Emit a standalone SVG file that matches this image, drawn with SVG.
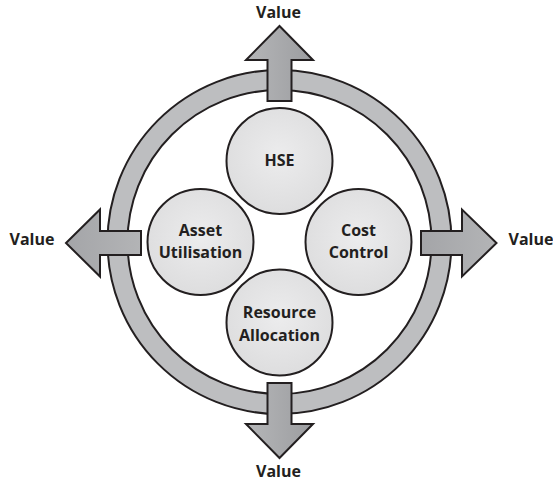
<svg xmlns="http://www.w3.org/2000/svg" width="553" height="483" viewBox="0 0 553 483">
  <defs>
    <linearGradient id="arrowV" x1="0" y1="0" x2="1" y2="0">
      <stop offset="0" stop-color="#b5b6b8"/>
      <stop offset="1" stop-color="#9c9da0"/>
    </linearGradient>
    <linearGradient id="arrowH" x1="0" y1="0" x2="1" y2="0">
      <stop offset="0" stop-color="#a4a5a8"/>
      <stop offset="1" stop-color="#b3b4b6"/>
    </linearGradient>
    <radialGradient id="nodeFill" cx="0.5" cy="0.45" r="0.6">
      <stop offset="0" stop-color="#ececed"/>
      <stop offset="1" stop-color="#dcdcdd"/>
    </radialGradient>
    <style>
      .ring { fill: #bdbec0; stroke: #231f20; stroke-width: 2; fill-rule: evenodd; }
      .arrow { stroke: #231f20; stroke-width: 2; stroke-linejoin: miter; }
      .node circle { fill: url(#nodeFill); stroke: #231f20; stroke-width: 2; }
      text { font-family: "Open Sans", "Liberation Sans", sans-serif; font-weight: 700; font-size: 16px; fill: #231f20; text-anchor: middle; }
    </style>
  </defs>
  <rect width="553" height="483" fill="#ffffff"/>

  <g id="ring">
    <path class="ring" d="M279.5,70 A172,172 0 1,1 279.5,414 A172,172 0 1,1 279.5,70 Z M279.5,90 A152,152 0 1,0 279.5,394 A152,152 0 1,0 279.5,90 Z"/>
  </g>

  <g id="connectors">
    <path class="arrow" fill="url(#arrowV)" d="M267.5,101 L267.5,60 L246,60 L279.5,26 L313,60 L291.5,60 L291.5,101 Z"/>
    <path class="arrow" fill="url(#arrowV)" d="M267.5,383 L267.5,424 L246,424 L279.5,458 L313,424 L291.5,424 L291.5,383 Z"/>
    <path class="arrow" fill="url(#arrowH)" d="M141,231 L100,231 L100,209.5 L66,243 L100,276.5 L100,255 L141,255 Z"/>
    <path class="arrow" fill="url(#arrowH)" d="M421,231 L462,231 L462,209.5 L496.5,243 L462,276.5 L462,255 L421,255 Z"/>
  </g>

  <g id="node-hse" class="node">
    <circle cx="279.5" cy="161" r="53"/>
    <text x="279.5" y="166">HSE</text>
  </g>
  <g id="node-asset" class="node">
    <circle cx="200.5" cy="242" r="53"/>
    <text x="200.5" y="236">Asset</text>
    <text x="200.5" y="258">Utilisation</text>
  </g>
  <g id="node-cost" class="node">
    <circle cx="358.5" cy="242" r="53"/>
    <text x="358.5" y="236">Cost</text>
    <text x="358.5" y="258">Control</text>
  </g>
  <g id="node-resource" class="node">
    <circle cx="279.5" cy="322.5" r="53"/>
    <text x="279.5" y="318">Resource</text>
    <text x="279.5" y="340.5">Allocation</text>
  </g>

  <g id="labels">
    <text x="278.5" y="18">Value</text>
    <text x="278.5" y="476.5">Value</text>
    <text x="32" y="245">Value</text>
    <text x="531" y="245">Value</text>
  </g>
</svg>
